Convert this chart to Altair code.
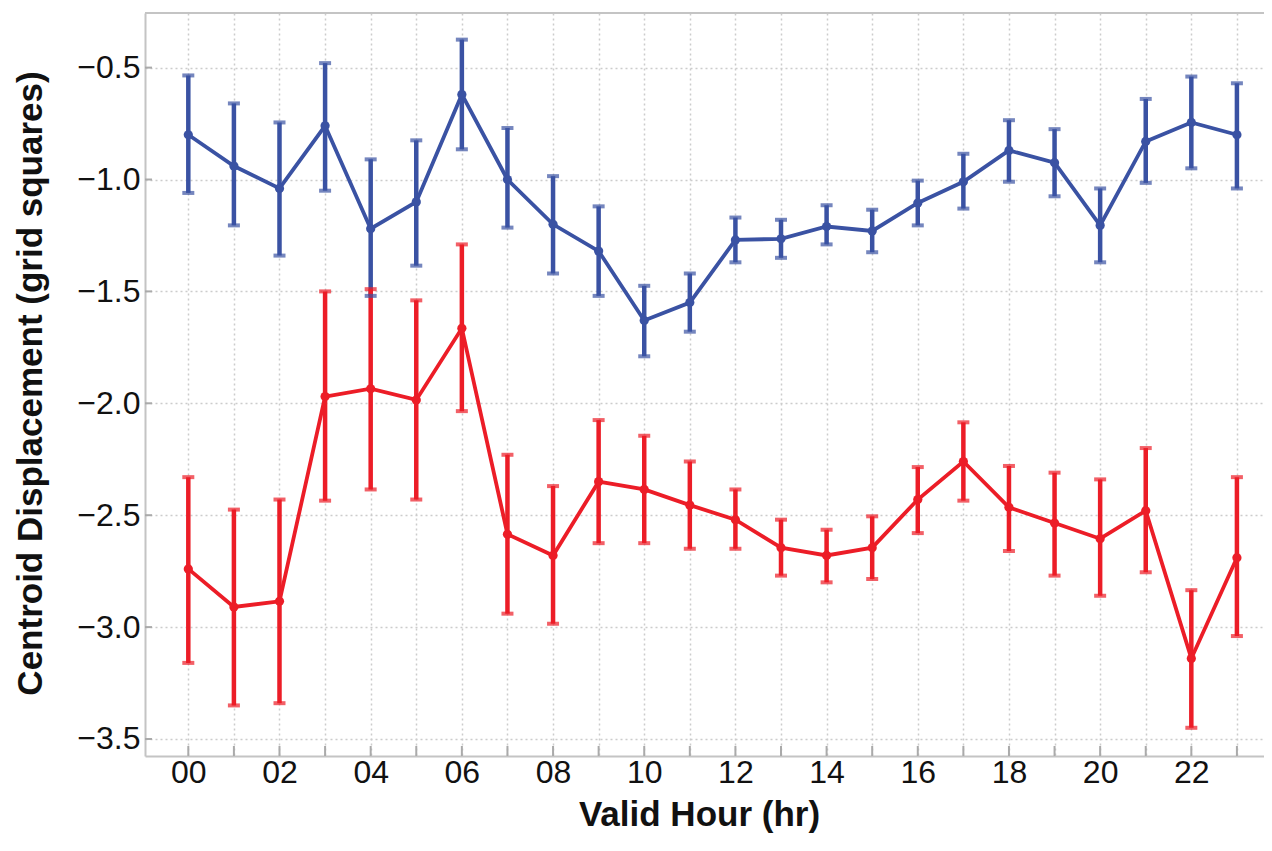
import altair as alt
import pandas as pd

hours = list(range(24))

blue_mean = [-0.80, -0.94, -1.04, -0.76, -1.22, -1.10, -0.62, -1.00, -1.20, -1.32, -1.63, -1.55,
             -1.27, -1.265, -1.21, -1.23, -1.105, -1.01, -0.87, -0.925, -1.205, -0.83, -0.745, -0.80]
blue_upper = [-0.535, -0.66, -0.745, -0.48, -0.91, -0.825, -0.375, -0.77, -0.985, -1.12, -1.475, -1.42,
              -1.17, -1.18, -1.115, -1.135, -1.005, -0.885, -0.735, -0.775, -1.04, -0.64, -0.54, -0.57]
blue_lower = [-1.06, -1.205, -1.34, -1.05, -1.52, -1.385, -0.865, -1.215, -1.42, -1.52, -1.79, -1.68,
              -1.37, -1.35, -1.29, -1.325, -1.205, -1.13, -1.01, -1.075, -1.37, -1.015, -0.95, -1.04]

red_mean = [-2.74, -2.91, -2.885, -1.97, -1.935, -1.985, -1.665, -2.585, -2.68, -2.35, -2.385, -2.455,
            -2.52, -2.645, -2.68, -2.645, -2.43, -2.26, -2.465, -2.535, -2.605, -2.48, -3.14, -2.69]
red_upper = [-2.33, -2.475, -2.43, -1.50, -1.49, -1.54, -1.29, -2.23, -2.37, -2.075, -2.145, -2.26,
             -2.385, -2.52, -2.565, -2.505, -2.285, -2.085, -2.28, -2.31, -2.34, -2.2, -2.835, -2.33]
red_lower = [-3.16, -3.35, -3.34, -2.435, -2.385, -2.43, -2.035, -2.94, -2.985, -2.625, -2.625, -2.65,
             -2.65, -2.77, -2.80, -2.785, -2.58, -2.435, -2.66, -2.77, -2.86, -2.755, -3.45, -3.04]

y_ticks = [-3.5, -3.0, -2.5, -2.0, -1.5, -1.0, -0.5]

series_names = ["blue", "red"]
series_colors = ["#3A52A3", "#EC1D27"]

rows = []
for name, m, lo, hi in [("blue", blue_mean, blue_lower, blue_upper),
                        ("red", red_mean, red_lower, red_upper)]:
    for h, a, b, c in zip(hours, m, lo, hi):
        rows.append({"hour": h, "mean": a, "lo": b, "hi": c, "series": name})
df = pd.DataFrame(rows)
hours_df = pd.DataFrame({"hour": hours})
yt_df = pd.DataFrame({"v": y_ticks})

W, H = 1119, 743
FONT = "Liberation Sans"
GRID = dict(grid=True, gridDash=[2, 3], gridColor="#cccccc", gridWidth=1.5)

xscale = alt.Scale(domain=[-0.95, 23.594], nice=False, zero=False)
yscale = alt.Scale(domain=[-3.576, -0.256], nice=False, zero=False)

xaxis = alt.Axis(
    values=hours,
    labelExpr="datum.value % 2 == 0 ? (datum.value < 10 ? '0' + datum.value : '' + datum.value) : ''",
    title="Valid Hour (hr)", ticks=False, domainColor="#c4c4c4", domainWidth=2,
    labelFont=FONT, labelFontSize=32, labelColor="#111111", labelPadding=1,
    labelFlush=False, labelOverlap=False, labelBound=False,
    titleFont=FONT, titleFontSize=35, titleFontWeight="bold", titleColor="#111111",
    titleY=58, titleBaseline="middle", titleX=554, **GRID)
yaxis = alt.Axis(
    values=y_ticks, format=".1f",
    title="Centroid Displacement (grid squares)", ticks=False, domainColor="#c4c4c4", domainWidth=2,
    labelFont=FONT, labelFontSize=32, labelColor="#111111", labelPadding=5,
    labelFlush=False, labelOverlap=False,
    titleFont=FONT, titleFontSize=35, titleFontWeight="bold", titleColor="#111111",
    titleX=-115, titleY=370, titleBaseline="middle", **GRID)

X = alt.X("hour:Q", scale=xscale, axis=xaxis)
color = alt.Color("series:N", scale=alt.Scale(domain=series_names, range=series_colors), legend=None)

base = alt.Chart(df)

err = base.mark_rule(strokeWidth=4.5).encode(
    x=X, y=alt.Y("lo:Q", scale=yscale, axis=yaxis), y2="hi:Q", color=color)
cap_hi = base.mark_tick(orient="horizontal", size=12, thickness=4).encode(
    x=X, y=alt.Y("hi:Q", scale=yscale, axis=yaxis), color=color)
cap_lo = base.mark_tick(orient="horizontal", size=12, thickness=4).encode(
    x=X, y=alt.Y("lo:Q", scale=yscale, axis=yaxis), color=color)
line = base.mark_line(strokeWidth=3.8).encode(
    x=X, y=alt.Y("mean:Q", scale=yscale, axis=yaxis), color=color)
pts = base.mark_circle(size=85, opacity=1).encode(
    x=X, y=alt.Y("mean:Q", scale=yscale, axis=yaxis), color=color)

xt = alt.Chart(hours_df).mark_rule(color="#aaaaaa", strokeWidth=2).encode(
    x=X, y=alt.value(H - 10), y2=alt.value(H))
yt = alt.Chart(yt_df).mark_rule(color="#aaaaaa", strokeWidth=2).encode(
    y=alt.Y("v:Q", scale=yscale, axis=yaxis), x=alt.value(0), x2=alt.value(7))
top = alt.Chart(hours_df).mark_rule(color="#c4c4c4", strokeWidth=2).encode(
    x=alt.value(0), x2=alt.value(W), y=alt.value(0))

chart = alt.layer(xt, yt, top, err, cap_hi, cap_lo, line, pts).properties(
    width=W, height=H,
    autosize=alt.AutoSizeParams(type="none"),
    padding={"left": 137, "top": 5, "right": 0, "bottom": 78},
    background="white",
).configure_view(stroke=None)

chart.save("out.html", embed_options={"renderer": "svg", "actions": False})
